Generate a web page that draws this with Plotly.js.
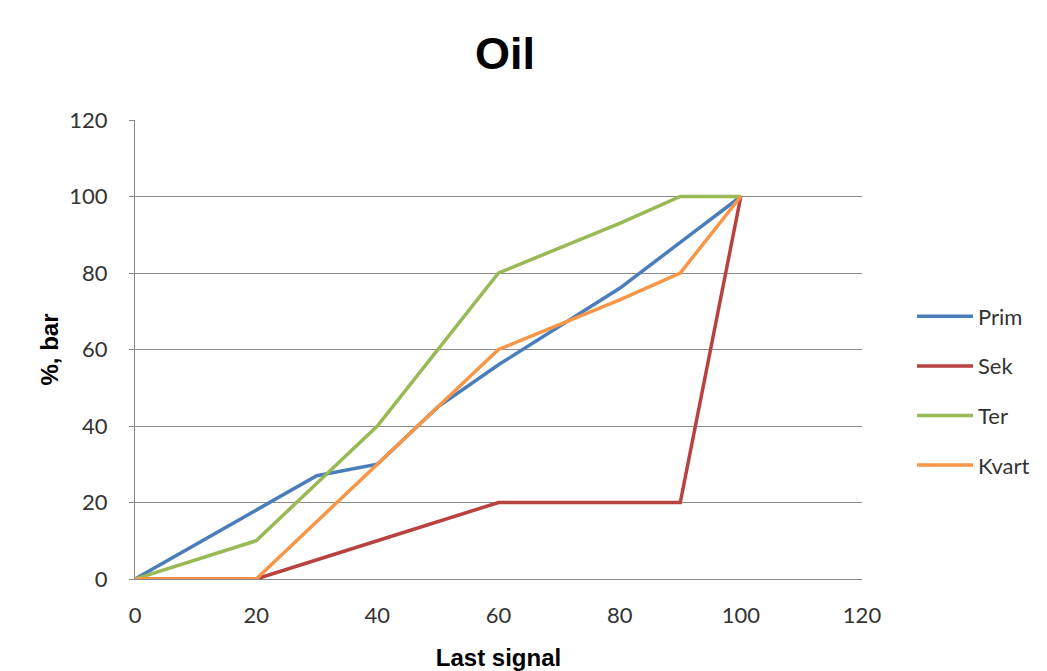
<!DOCTYPE html>
<html>
<head>
<meta charset="utf-8">
<script src="https://cdn.plot.ly/plotly-3.0.1.min.js"></script>
<style>html,body{margin:0;padding:0;background:#fff;}#chart{width:1047px;height:671px;}</style>
</head>
<body>
<div id="chart"></div>
<script>
var primX = [0, 20, 30, 40, 50, 60, 80, 90, 100];
var primY = [0, 18, 27, 30, 45, 56, 76, 88, 100];
var sekX = [0, 20, 40, 50, 60, 90, 100];
var sekY = [0, 0, 10, 15, 20, 20, 100];
var terX = [0, 20, 40, 50, 60, 80, 90, 100];
var terY = [0, 10, 40, 60, 80, 93, 100, 100];
var kvartX = [0, 20, 40, 50, 60, 80, 90, 100];
var kvartY = [0, 0, 30, 45, 60, 73, 80, 100];
var seriesNames = ['Prim', 'Sek', 'Ter', 'Kvart'];
var colors = ['#4A7EBB', '#B8423F', '#98B954', '#F79646'];
var xs = [primX, sekX, terX, kvartX];
var ys = [primY, sekY, terY, kvartY];
var tickValues = [0, 20, 40, 60, 80, 100, 120];

var traces = seriesNames.map(function(n, i){
  return {x: xs[i], y: ys[i], name: n, type: 'scatter', mode: 'lines',
    legendgroup: n,
    line: {color: colors[i], width: 3.5}};
});

var tickFont = {family: 'Lato, "Open Sans", sans-serif', size: 22, color: '#333'};
var titleFont = {family: '"Liberation Sans Narrow", "Liberation Sans", Arial, sans-serif', size: 24, color: '#000'};
var layout = {
  width: 1047, height: 671,
  margin: {l: 135, r: 185, t: 120, b: 92, autoexpand: false},
  paper_bgcolor: '#fff', plot_bgcolor: '#fff',
  title: {text: '<b>Oil</b>', x: 505/1047, xanchor: 'center', y: 1 - 53/671, yanchor: 'middle',
    font: {family: '"Liberation Sans", Arial, sans-serif', size: 45, color: '#000'}},
  xaxis: {range: [0, 120], tickvals: tickValues, showgrid: false,
    zeroline: false, showline: true, linecolor: '#888', linewidth: 1,
    ticks: '', tickfont: tickFont, ticklabelstandoff: 17,
    title: {text: '<b>Last signal</b>', standoff: 22, font: titleFont}},
  yaxis: {range: [0, 120], tickvals: tickValues, showgrid: true,
    gridcolor: '#8a8a8a', gridwidth: 1, zeroline: false, showline: true,
    linecolor: '#888', linewidth: 1, ticks: 'outside', ticklen: 5, tickcolor: '#888',
    tickfont: tickFont, ticklabelstandoff: 17,
    title: {text: '<b>%, bar</b>', standoff: 3, font: titleFont}},
  legend: {x: (912 - 135) / 727, xanchor: 'left', y: (579 - 391) / 459, yanchor: 'middle',
    font: {family: 'Lato, "Open Sans", sans-serif', size: 22, color: '#333'},
    tracegroupgap: 18, itemwidth: 56, bgcolor: 'rgba(0,0,0,0)'},
  showlegend: true
};
Plotly.newPlot('chart', traces, layout, {displayModeBar: false, staticPlot: true});
</script>
</body>
</html>
